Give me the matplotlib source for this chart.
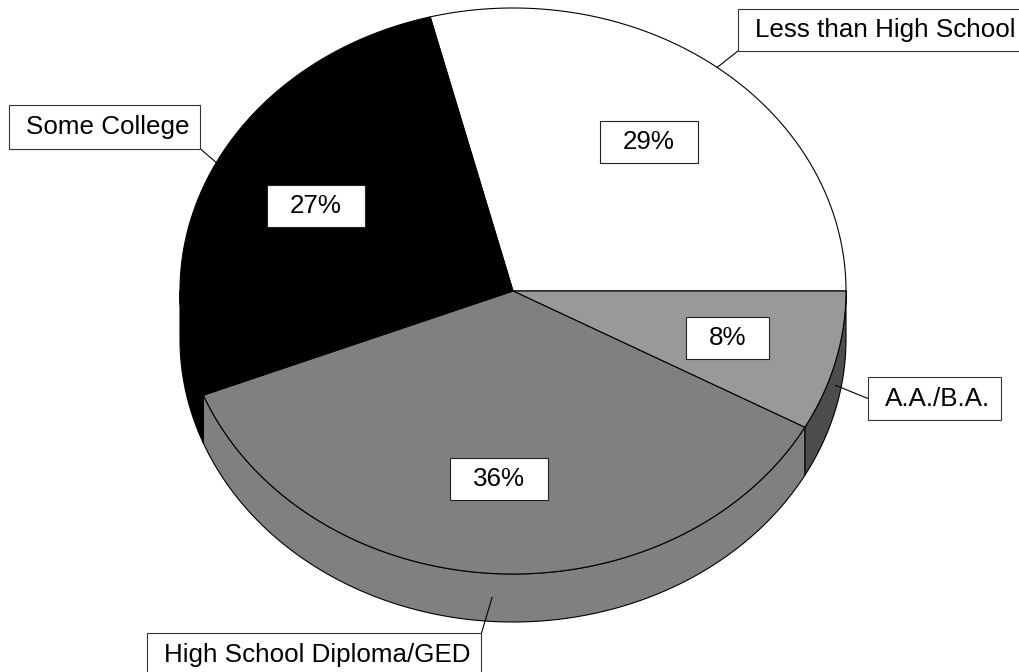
import numpy as np
import matplotlib
matplotlib.use("Agg")
import matplotlib.pyplot as plt
from matplotlib.patches import Polygon, Rectangle

# ---- data ----
categories = ["Less than High School", "A.A./B.A.", "High School Diploma/GED", "Some College"]
values = [29, 8, 36, 27]
pct_labels = ["29%", "8%", "36%", "27%"]
top_colors = ["#ffffff", "#999999", "#808080", "#000000"]
side_colors = ["#ffffff", "#4d4d4d", "#808080", "#000000"]

# ---- layout ----
W, H = 1019, 672
CX, CY, RX, RY, DEPTH = 513, 291, 333, 283, 48
START = 104.4          # angle (deg, math convention) where the first slice starts; slices go clockwise
PCT_R = 0.665
FS = 18.7
FONT = "Liberation Sans"
# label boxes: (left, top, height)
label_boxes = [(738, 9, 42), (868, 377, 43), (147, 633, 44), (9, 105, 44)]
LPAD, RPAD = 17, 11

fig = plt.figure(figsize=(W / 100, H / 100), dpi=100)
ax = fig.add_axes([0, 0, 1, 1])
ax.set_xlim(0, W)
ax.set_ylim(H, 0)
ax.axis("off")
renderer = fig.canvas.get_renderer()


def pt(a_deg, dz=0.0):
    a = np.radians(a_deg)
    return CX + RX * np.cos(a), CY - RY * np.sin(a) + dz


def arc(a0, a1, dz=0.0, n=None):
    if n is None:
        n = max(int(abs(a1 - a0) * 2), 2)
    ang = np.linspace(a0, a1, n)
    return [pt(a, dz) for a in ang]


total = float(sum(values))
bounds = []
a = START
for v in values:
    b = a - v / total * 360.0
    bounds.append((a, b))
    a = b

LW = 0.8

# side faces (front half: angles in [-180, 0] mod 360)
for (a0, a1), sc in zip(bounds, side_colors):
    for k in (-1, 0, 1):
        lo, hi = -180 + 360 * k, 0 + 360 * k
        s_hi = min(a0, hi)
        s_lo = max(a1, lo)
        if s_hi - s_lo > 1e-6:
            top = arc(s_hi, s_lo)
            bot = arc(s_lo, s_hi, DEPTH)
            ax.add_patch(Polygon(top + bot, closed=True, facecolor=sc,
                                 edgecolor="black", linewidth=LW, joinstyle="round"))

# top faces
for (a0, a1), tc in zip(bounds, top_colors):
    verts = [(CX, CY)] + arc(a0, a1)
    ax.add_patch(Polygon(verts, closed=True, facecolor=tc,
                         edgecolor="black", linewidth=LW, joinstyle="round"))


def text_width(s):
    t = ax.text(0, 0, s, fontsize=FS, family=FONT)
    w = t.get_window_extent(renderer).width
    t.remove()
    return w


# percentage labels
for (a0, a1), lab in zip(bounds, pct_labels):
    mid = np.radians((a0 + a1) / 2)
    x = CX + PCT_R * RX * np.cos(mid)
    y = CY - PCT_R * RY * np.sin(mid)
    tw = text_width(lab)
    bw, bh = tw + 46, 42
    ax.add_patch(Rectangle((x - bw / 2, y - bh / 2), bw, bh, facecolor="white",
                           edgecolor="#222222", linewidth=LW, zorder=5))
    ax.text(x, y, lab, fontsize=FS, family=FONT, ha="center", va="center", zorder=6)

# category labels with leader lines
for (a0, a1), lab, (bl, bt, bh) in zip(bounds, categories, label_boxes):
    mid = (a0 + a1) / 2
    s = np.sin(np.radians(mid))
    ax_x, ax_y = pt(mid, DEPTH / 2 if s < 0 else 0)
    tw = text_width(lab)
    bw = tw + LPAD + RPAD
    # connection point on box
    cxp = min(max(ax_x, bl), bl + bw)
    if bt <= ax_y <= bt + bh:
        cyp = bt + bh / 2
    else:
        cyp = min(max(ax_y, bt), bt + bh)
    ax.plot([ax_x, cxp], [ax_y, cyp], color="black", linewidth=LW, zorder=4)
    ax.add_patch(Rectangle((bl, bt), bw, bh, facecolor="white",
                           edgecolor="#333333", linewidth=LW, zorder=5))
    ax.text(bl + LPAD, bt + bh / 2, lab, fontsize=FS, family=FONT,
            ha="left", va="center", zorder=6)

fig.savefig("out.png", dpi=100)
